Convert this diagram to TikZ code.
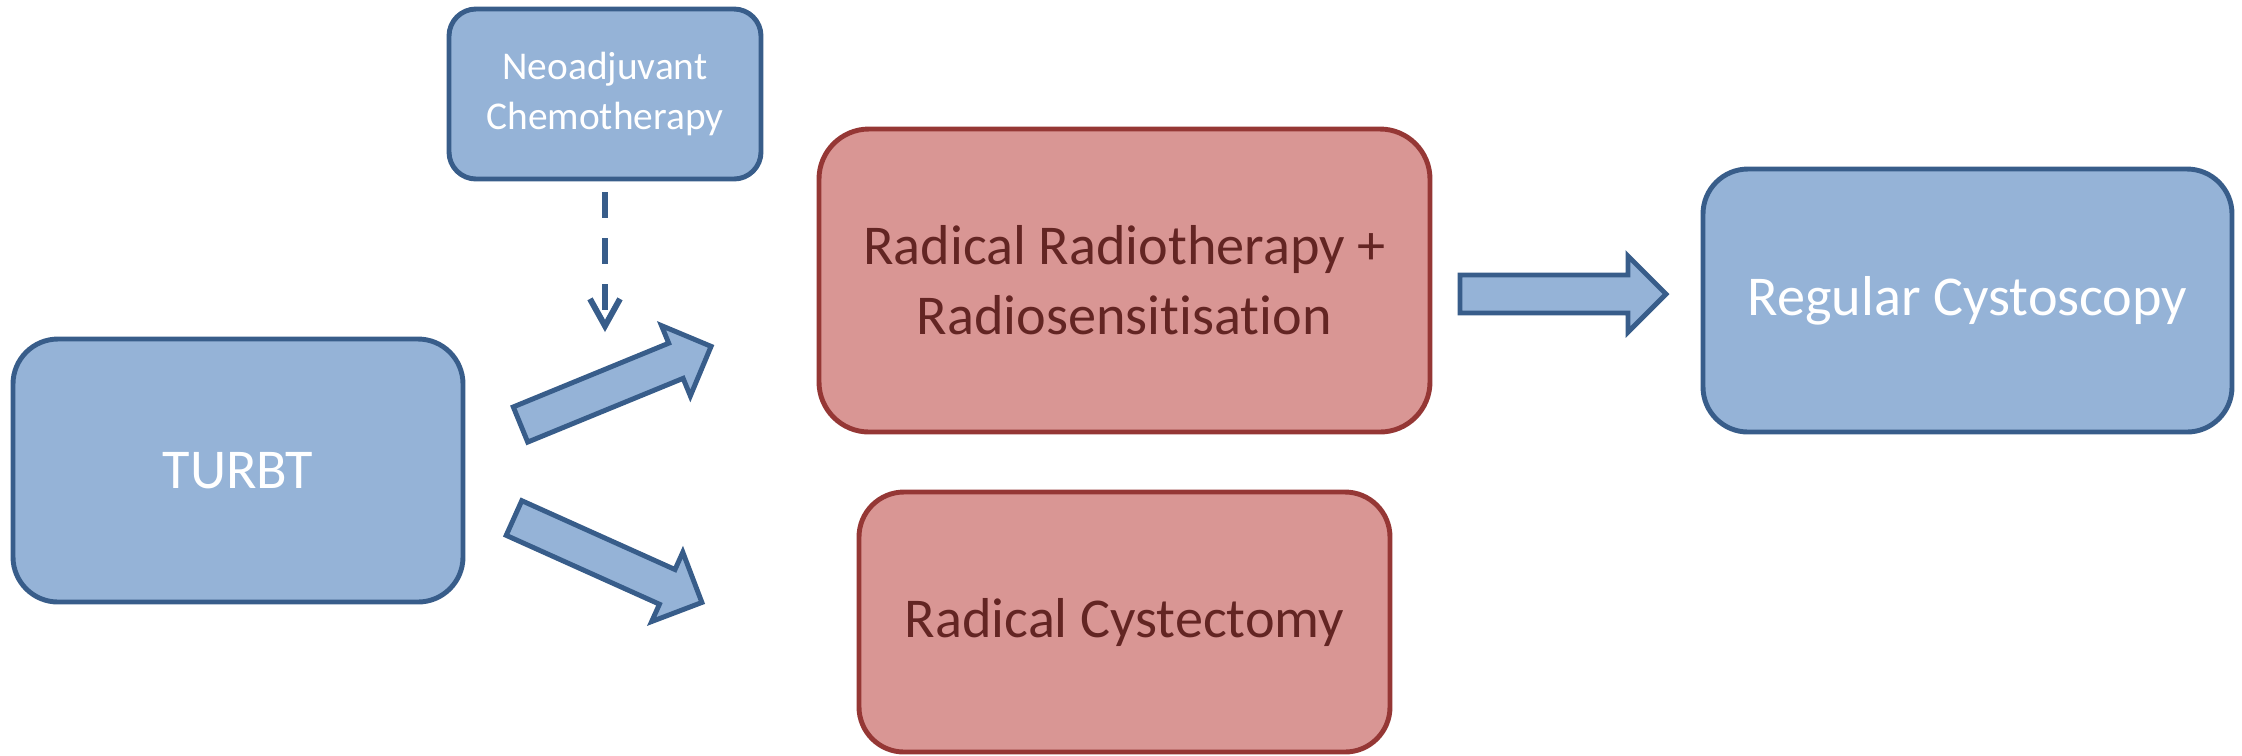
\documentclass[tikz,border=0pt]{standalone}
\usepackage{fontspec}
\setmainfont{Carlito}[Ligatures=NoCommon]
\usetikzlibrary{arrows.meta}
\definecolor{bleu}{HTML}{95B3D7}
\definecolor{bleufonce}{HTML}{385D8A}
\definecolor{rose}{HTML}{D99694}
\definecolor{rouge}{HTML}{953735}
\definecolor{brun}{HTML}{632523}
\begin{document}
\begin{tikzpicture}
\useasboundingbox (0,0) rectangle (22.42,-7.55);
\tikzstyle{lien}=[-{Straight Barb[length=0.27cm,width=0.3cm]},dash pattern=on 0.26cm off 0.2cm,line width=1.7pt,draw=bleufonce]
\tikzset{etape/.style={draw=bleufonce,line width=1.4pt,fill=bleu,text=white,rounded corners=0.45cm,font=\fontsize{16}{20}\selectfont,align=center,inner sep=0pt},
traitement/.style={etape,draw=rouge,fill=rose,text=brun}}
\tikzset{fleche/.pic={\draw[draw=bleufonce,line width=1.4pt,fill=bleu] (0,-0.19) -- (1.68,-0.19) -- (1.68,-0.38) -- (2.06,0) -- (1.68,0.38) -- (1.68,0.19) -- (0,0.19) -- cycle;}}

\node[etape,minimum width=4.5cm,minimum height=2.63cm] (A) at (2.38,-4.705) {TURBT};
\node[etape,minimum width=3.12cm,minimum height=1.7cm,rounded corners=0.27cm,font=\fontsize{11.2}{14}\selectfont] (N) at (6.05,-0.94) {Neoadjuvant\\Chemotherapy};
\node[traitement,minimum width=6.11cm,minimum height=3.03cm,rounded corners=0.5cm] (B1) at (11.245,-2.805) {Radical Radiotherapy +\\Radiosensitisation};
\node[traitement,minimum width=5.31cm,minimum height=2.6cm] (B2) at (11.245,-6.22) {Radical Cystectomy};
\node[etape,minimum width=5.29cm,minimum height=2.63cm] (C) at (19.675,-3.005) {Regular Cystoscopy};

\coordinate (N1) at (6.05,-3.32);
\draw[lien,shorten <=0.11cm] (N) -- (N1);

\pic[rotate=22.3] at (5.205,-4.245) {fleche};
\pic[rotate=-24.2] at (5.14,-5.18) {fleche};
\pic at (14.6,-2.94) {fleche};
\end{tikzpicture}
\end{document}
